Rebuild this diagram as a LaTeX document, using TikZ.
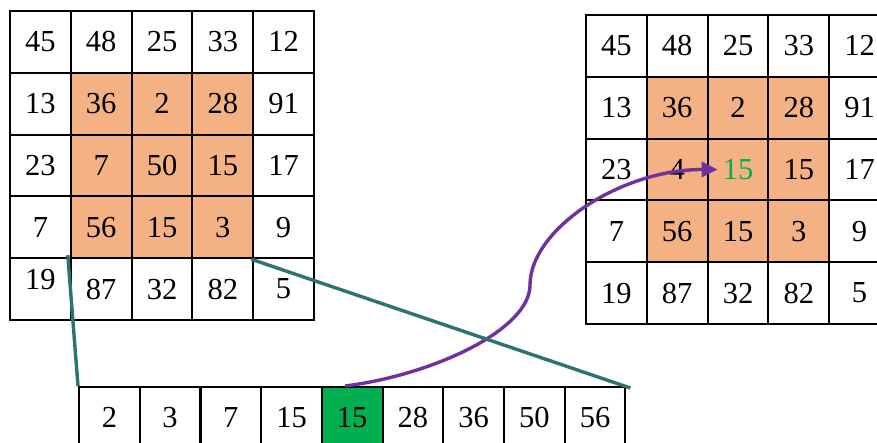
\documentclass[tikz,border=0pt]{standalone}
\usepackage{fontspec}
\setmainfont{Liberation Serif}
\usetikzlibrary{arrows.meta}
\definecolor{cellorange}{HTML}{F4B183}
\definecolor{cellgreen}{HTML}{00B050}
\definecolor{arrowpurple}{HTML}{7030A0}
\definecolor{lineteal}{RGB}{43,116,116}
\begin{document}
\begin{tikzpicture}[x=1pt,y=-1pt,
  cell/.style={draw=black, line width=2pt, minimum width=60.8pt, minimum height=61.8pt,
    inner sep=0pt, anchor=north west, font=\fontsize{30.5}{30.5}\selectfont},
  hotcell/.style={cell, fill=cellorange},
  pickcell/.style={cell, fill=cellgreen},
  tealline/.style={draw=lineteal, line width=3.4pt},
  purplearrow/.style={draw=arrowpurple, line width=3.4pt, -{Triangle[length=16pt,width=15pt]}}]
\clip (0,0) rectangle (877,443);
\fill[white] (0,0) rectangle (877,443);
% left grid
\foreach \r/\vals in {1/{45,48,25,33,12},2/{13,36,2,28,91},3/{23,7,50,15,17},4/{7,56,15,3,9},5/{{\raisebox{10pt}[\height][\depth]{19}},87,32,82,5}} {
  \foreach \v [count=\c] in \vals {
    \pgfmathtruncatemacro\ishot{and(and(\r>1,\r<5),and(\c>1,\c<5))}
    \pgfmathsetmacro\px{9+(\c-1)*60.8}
    \pgfmathsetmacro\py{10+(\r-1)*61.8}
    \ifnum\ishot=1
      \node[hotcell] (L-\r-\c) at (\px,\py) {\v};
    \else
      \node[cell] (L-\r-\c) at (\px,\py) {\v};
    \fi
  }
}
% right grid
\foreach \r/\vals in {1/{45,48,25,33,12},2/{13,36,2,28,91},3/{23,4,{\textcolor{cellgreen}{15}},15,17},4/{7,56,15,3,9},5/{19,87,32,82,5}} {
  \foreach \v [count=\c] in \vals {
    \pgfmathtruncatemacro\ishot{and(and(\r>1,\r<5),and(\c>1,\c<5))}
    \pgfmathsetmacro\px{585+(\c-1)*60.8}
    \pgfmathsetmacro\py{14+(\r-1)*61.8}
    \ifnum\ishot=1
      \node[hotcell] (R-\r-\c) at (\px,\py) {\v};
    \else
      \node[cell] (R-\r-\c) at (\px,\py) {\v};
    \fi
  }
}
% bottom sorted row
\foreach \v [count=\i] in {2,3,7,15,15,28,36,50,56} {
  \pgfmathsetmacro\px{78+(\i-1)*60.7}
  \ifnum\i=5
    \node[pickcell] (B-\i) at (\px,386) {\v};
  \else
    \node[cell] (B-\i) at (\px,386) {\v};
  \fi
}
% median arrow
\coordinate (bend) at (530,285);
\draw[purplearrow] ([xshift=-7pt]B-5.north) .. controls +(87,-11) and +(0,45) .. (bend)
  .. controls +(0,-55) and +(-98,0) .. ([xshift=11pt]R-3-3.west);
% window to sorted row
\draw[tealline] ([xshift=-2pt,yshift=2pt]L-5-2.north west) -- (B-1.north west);
\draw[tealline] ([xshift=-3pt]L-4-4.south east) -- ([xshift=4pt,yshift=-2pt]B-9.north east);
\end{tikzpicture}
\end{document}
